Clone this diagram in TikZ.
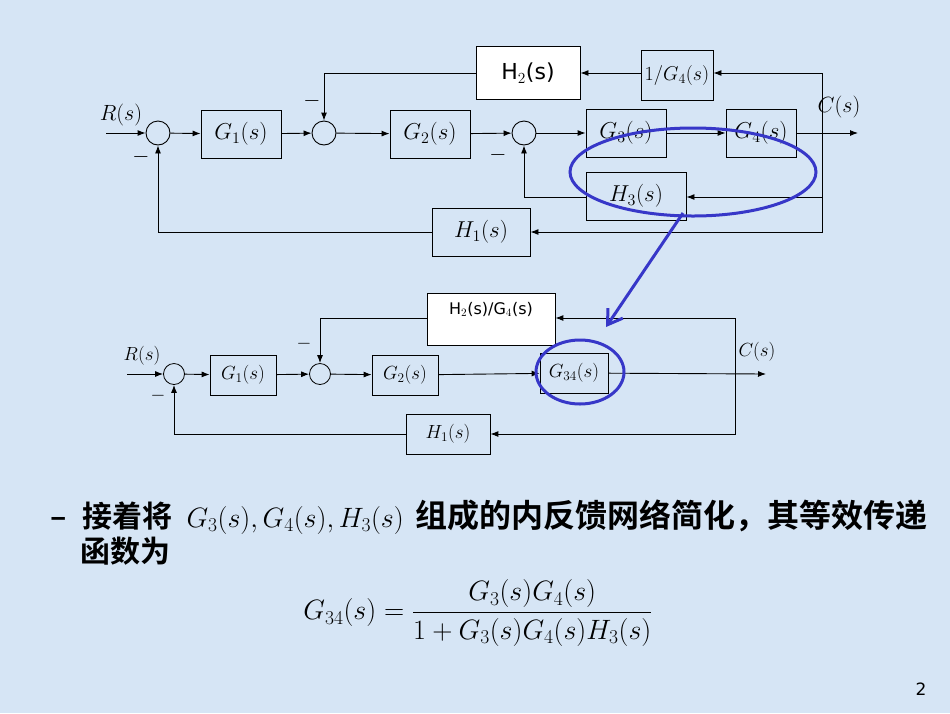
\RequirePackage{fix-cm}
\documentclass[tikz,border=0pt]{standalone}
\usepackage{amsmath}
\usepackage{fontspec}
\setsansfont{DejaVu Sans}
\newfontfamily\cjk{Noto Sans CJK SC}[BoldFont={* Bold}]
\usetikzlibrary{arrows.meta}
\definecolor{bg}{RGB}{214,229,245}
\definecolor{myblue}{RGB}{55,55,200}
\begin{document}
\begin{tikzpicture}[x=1pt,y=-1pt,
  blk/.style={draw,line width=0.9pt,fill=bg,minimum width=#1,minimum height=48pt,inner sep=0pt,font=\fontsize{23}{23}\selectfont},
  blk/.default=80pt,
  sblk/.style={draw,line width=0.8pt,fill=bg,minimum width=#1,minimum height=40pt,inner sep=0pt,font=\fontsize{19}{19}\selectfont},
  sblk/.default=66pt,
  sum/.style={draw,line width=0.9pt,circle,minimum size=24pt,inner sep=0pt},
  ssum/.style={draw,line width=0.8pt,circle,minimum size=21pt,inner sep=0pt},
  ar/.style={-{Latex[length=8pt,width=6pt]},line width=0.9pt},
  lab/.style={font=\fontsize{22}{22}\selectfont},
  slab/.style={font=\fontsize{19}{19}\selectfont},
  ell/.style={draw=myblue,line width=3pt}]
\fill[bg] (0,0) rectangle (950,713);
\useasboundingbox (0,0) rectangle (950,713);
% ---------- top diagram ----------
\coordinate (in1) at (106,133);
\node[sum] (s1) at (158,133) {};
\node[blk] (g1) at (241,134) {$G_1(s)$};
\node[sum] (s2) at (324,133) {};
\node[blk] (g2) at (430,134) {$G_2(s)$};
\node[sum] (s3) at (524,133) {};
\node[blk] (g3) at (626,133) {$G_3(s)$};
\node[blk=70pt] (g4) at (761,133) {$G_4(s)$};
\coordinate (out1) at (858,133);
\coordinate (br1) at (822,133);
\node[draw,line width=0.9pt,fill=white,minimum width=104pt,minimum height=53pt,font=\sffamily\fontsize{22}{22}\selectfont] (h2) at (528,73) {H$_2$(s)};
\node[draw,line width=0.9pt,fill=bg,minimum width=72pt,minimum height=50pt,inner sep=0pt,font=\fontsize{20}{20}\selectfont] (ig4) at (677,75) {$1/G_4(s)$};
\node[blk=100pt] (h3) at (636,196) {$H_3(s)$};
\node[blk=98pt] (h1) at (481,232) {$H_1(s)$};
\node[lab] (R1) at (121,115) {$R(s)$};
\node[lab] (C1) at (839,107) {$C(s)$};
\node[lab] (m1) at (141,157) {$-$};
\node[lab] (m2) at (312,101) {$-$};
\node[lab] (m3) at (498,155) {$-$};
\draw[ar] (in1) -- (s1);
\draw[ar] (s1) -- (g1);
\draw[ar] (g1) -- (s2);
\draw[ar] (s2) -- (g2);
\draw[ar] (g2) -- (s3);
\draw[ar] (s3) -- (g3);
\draw[ar] (g3) -- (g4);
\draw[ar] (g4) -- (out1);
\draw[ar] (br1) |- (ig4.east |- 0,73);
\draw[ar] (ig4.west |- 0,73) -- (h2.east |- 0,73);
\draw[ar] (h2.west |- 0,73) -| (s2.north);
\draw[ar] (br1) |- (h3.east |- 0,197);
\draw[ar] (h3.west |- 0,197) -| (s3.south);
\draw[ar] (br1) |- (h1.east);
\draw[ar] (h1.west) -| (s1.south);
% ---------- bottom diagram ----------
\coordinate (in2) at (127,374);
\node[ssum] (t1) at (174,374) {};
\node[sblk] (b1) at (243,375) {$G_1(s)$};
\node[ssum] (t2) at (320,374) {};
\node[sblk] (b2) at (405,375) {$G_2(s)$};
\node[sblk=68pt] (b34) at (574,373) {$G_{34}(s)$};
\coordinate (br2) at (735,374);
\coordinate (out2) at (766,374);
\node[draw,line width=0.8pt,fill=white,minimum width=128pt,minimum height=52pt,inner sep=0pt,font=\sffamily\fontsize{16}{16}\selectfont,anchor=north,text depth=22pt] (hh) at (491,293) {H$_2$(s)/G$_4$(s)};
\node[sblk=84pt] (b1h) at (448,434) {$H_1(s)$};
\node[slab] (R2) at (142,356) {$R(s)$};
\node[slab] (C2) at (757,352) {$C(s)$};
\node[slab] (n1) at (158,396) {$-$};
\node[slab] (n2) at (304,344) {$-$};
\draw[ar] (in2) -- (t1);
\draw[ar] (t1) -- (b1);
\draw[ar] (b1) -- (t2);
\draw[ar] (t2) -- (b2);
\draw[ar] (b2) -- (b34);
\draw[ar] (b34) -- (out2);
\draw[ar] (br2) |- (hh.east |- 0,318);
\draw[ar] (hh.west |- 0,318) -| (t2.north);
\draw[ar] (br2) |- (b1h.east);
\draw[ar] (b1h.west) -| (t1.south);
% ---------- blue highlight ----------
\draw[ell] (693,172) ellipse [x radius=123pt,y radius=44pt];
\draw[ell] (580,372) ellipse [x radius=44pt,y radius=32pt];
\coordinate (pa) at (683,213);
\coordinate (pb) at (606,327);
\draw[ell,-{Straight Barb[length=14pt,width=18pt]}] (pa) -- (pb);
% ---------- text ----------
\node[anchor=west,font=\cjk\bfseries\fontsize{30}{30}\selectfont,inner sep=0pt] (t1x) at (50,517) {–\hspace{16pt}接着将\hspace{14pt}\fontsize{28}{28}\selectfont$G_3(s),G_4(s),H_3(s)$\hspace{12pt}\fontsize{32}{32}\selectfont 组成的内反馈网络简化，其等效传递};
\node[anchor=west,font=\cjk\bfseries\fontsize{30}{30}\selectfont,inner sep=0pt] (t2x) at (80,551) {函数为};
\node[font=\fontsize{28}{28}\selectfont] (eq) at (478,613) {$G_{34}(s)=\dfrac{G_3(s)G_4(s)}{1+G_3(s)G_4(s)H_3(s)}$};
\node[font=\sffamily\fontsize{17}{17}\selectfont] (pg) at (921,689) {2};
\end{tikzpicture}
\end{document}
